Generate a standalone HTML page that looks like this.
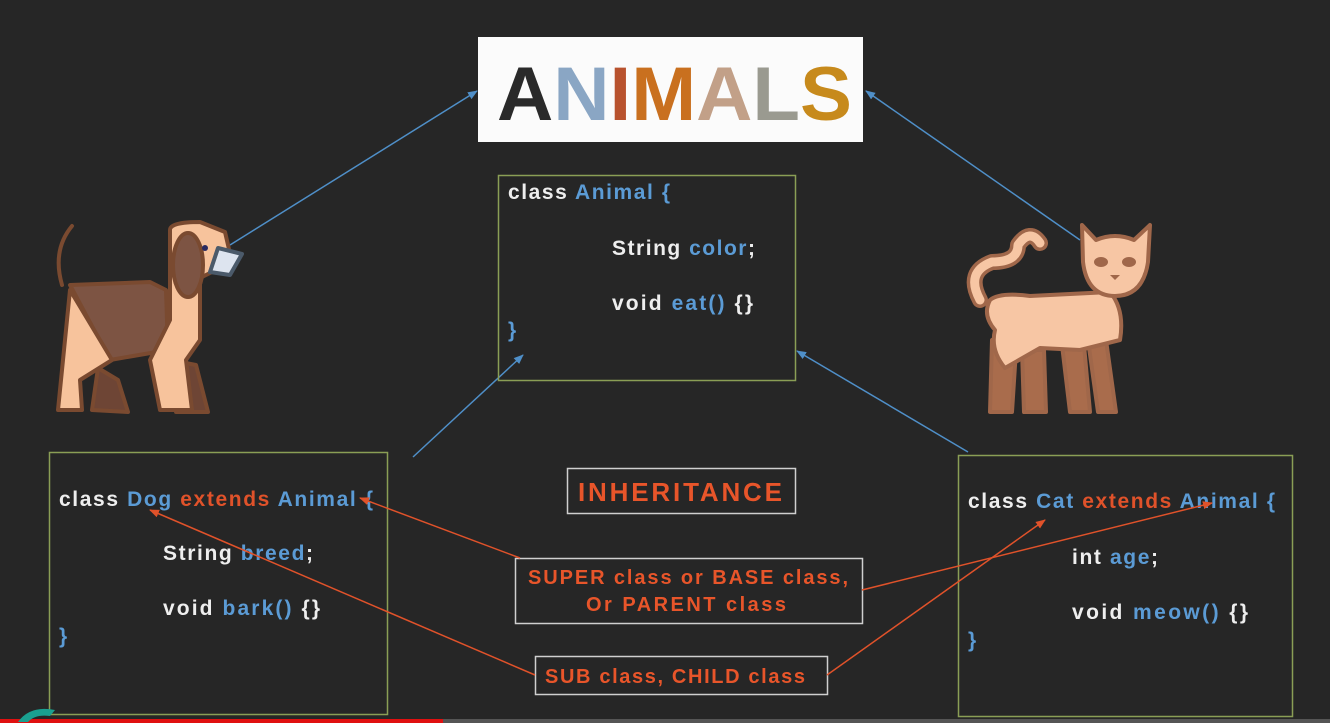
<!DOCTYPE html>
<html><head><meta charset="utf-8"><style>
html,body{margin:0;padding:0;background:#262626;width:1330px;height:723px;overflow:hidden}
svg{display:block}
text{font-family:"Liberation Sans",sans-serif;font-weight:bold}
</style></head><body>
<svg width="1330" height="723" viewBox="0 0 1330 723">
<defs>
<marker id="ab" markerWidth="10" markerHeight="10" refX="9" refY="5" orient="auto" markerUnits="userSpaceOnUse"><path d="M0,1 L10,5 L0,9 Z" fill="#4f8fc8"/></marker>
<marker id="ao" markerWidth="10" markerHeight="10" refX="9" refY="5" orient="auto" markerUnits="userSpaceOnUse"><path d="M0,1 L10,5 L0,9 Z" fill="#e0522a"/></marker>
</defs>
<rect width="1330" height="723" fill="#262626"/>
<g>
<rect x="478" y="37" width="385" height="105" fill="#fbfbfb"/>
<text x="497" y="120" font-size="76" font-weight="bold" textLength="355" lengthAdjust="spacingAndGlyphs"><tspan fill="#2a2a2a">A</tspan><tspan fill="#8aa6c4">N</tspan><tspan fill="#b8522e">I</tspan><tspan fill="#c9701f">M</tspan><tspan fill="#c2a088">A</tspan><tspan fill="#9a9a90">L</tspan><tspan fill="#c78a1c">S</tspan></text>
</g>
<g stroke="#4f8fc8" stroke-width="1.5" fill="none">
<line x1="230" y1="245" x2="477" y2="91" marker-end="url(#ab)"/>
<line x1="1080" y1="240" x2="866" y2="91" marker-end="url(#ab)"/>
<line x1="413" y1="457" x2="523" y2="355" marker-end="url(#ab)"/>
<line x1="968" y1="452" x2="797" y2="351" marker-end="url(#ab)"/>
</g>
<g fill="none" stroke="#8a9e55" stroke-width="1.5">
<rect x="498.5" y="175.5" width="297" height="205"/>
<rect x="49.5" y="452.5" width="338" height="262"/>
<rect x="958.5" y="455.5" width="334" height="261"/>
</g>
<g font-size="21">
<text x="508" y="199" textLength="162"><tspan fill="#eeeeee">class </tspan><tspan fill="#5b9bd5">Animal {</tspan></text>
<text x="612" y="255" textLength="143"><tspan fill="#eeeeee">String </tspan><tspan fill="#5b9bd5">color</tspan><tspan fill="#eeeeee">;</tspan></text>
<text x="612" y="310" textLength="141"><tspan fill="#eeeeee">void </tspan><tspan fill="#5b9bd5">eat()</tspan><tspan fill="#eeeeee"> {}</tspan></text>
<text x="508" y="337" fill="#5b9bd5">}</text>
</g>
<g font-size="21">
<text x="59" y="506" textLength="314"><tspan fill="#eeeeee">class </tspan><tspan fill="#5b9bd5">Dog </tspan><tspan fill="#e0522a">extends </tspan><tspan fill="#5b9bd5">Animal {</tspan></text>
<text x="163" y="560" textLength="150"><tspan fill="#eeeeee">String </tspan><tspan fill="#5b9bd5">breed</tspan><tspan fill="#eeeeee">;</tspan></text>
<text x="163" y="615" textLength="157"><tspan fill="#eeeeee">void </tspan><tspan fill="#5b9bd5">bark()</tspan><tspan fill="#eeeeee"> {}</tspan></text>
<text x="59" y="643" fill="#5b9bd5">}</text>
</g>
<g font-size="21">
<text x="968" y="508" textLength="307"><tspan fill="#eeeeee">class </tspan><tspan fill="#5b9bd5">Cat </tspan><tspan fill="#e0522a">extends </tspan><tspan fill="#5b9bd5">Animal {</tspan></text>
<text x="1072" y="564" textLength="86"><tspan fill="#eeeeee">int </tspan><tspan fill="#5b9bd5">age</tspan><tspan fill="#eeeeee">;</tspan></text>
<text x="1072" y="619" textLength="176"><tspan fill="#eeeeee">void </tspan><tspan fill="#5b9bd5">meow()</tspan><tspan fill="#eeeeee"> {}</tspan></text>
<text x="968" y="647" fill="#5b9bd5">}</text>
</g>
<g fill="none" stroke="#cfcfcf" stroke-width="1.5">
<rect x="567.5" y="468.5" width="228" height="45"/>
<rect x="515.5" y="558.5" width="347" height="65"/>
<rect x="535.5" y="656.5" width="292" height="38"/>
</g>
<g fill="#e8552a">
<text x="578" y="501" font-size="26" textLength="204">INHERITANCE</text>
<text x="528" y="584" font-size="20" textLength="320">SUPER class  or BASE class,</text>
<text x="586" y="611" font-size="20" textLength="200">Or PARENT class</text>
<text x="545" y="683" font-size="20" textLength="260">SUB class, CHILD class</text>
</g>
<g stroke="#e0522a" stroke-width="1.5" fill="none">
<line x1="520" y1="558" x2="360" y2="498" marker-end="url(#ao)"/>
<line x1="862" y1="590" x2="1212" y2="503" marker-end="url(#ao)"/>
<line x1="535" y1="675" x2="150" y2="510" marker-end="url(#ao)"/>
<line x1="827" y1="675" x2="1045" y2="520" marker-end="url(#ao)"/>
</g>
<g stroke="#7a4a30" stroke-width="4" stroke-linejoin="round" stroke-linecap="round">
<path d="M72,226 Q52,250 62,285" fill="none"/>
<path d="M98,368 L92,410 L128,412 L118,380 Z" fill="#6e4535"/>
<path d="M170,360 L176,412 L208,412 L196,365 Z" fill="#6e4535"/>
<path d="M70,285 L150,282 L166,290 L168,350 L110,360 Z" fill="#7d5443"/>
<path d="M70,290 L112,360 L80,380 L82,410 L58,410 Z" fill="#f7c39c"/>
<path d="M150,360 L170,320 L170,230 Q170,222 200,222 L225,232 L232,262 L200,278 L200,340 L186,360 L192,410 L160,410 Z" fill="#f7c39c"/>
<ellipse cx="188" cy="265" rx="15" ry="32" fill="#7d5443"/>
<path d="M218,248 L242,254 L230,275 L210,272 Z" fill="#dde4ef" stroke="#4b5a6a"/>
<circle cx="205" cy="248" r="3" fill="#2a2a60" stroke="none"/>
</g>
<g stroke="#a0674a" stroke-width="4" stroke-linejoin="round">
<path d="M992,340 L990,412 L1012,412 L1016,350 Z" fill="#a96c4c"/>
<path d="M1022,350 L1024,412 L1046,412 L1044,350 Z" fill="#a96c4c"/>
<path d="M1062,345 L1070,412 L1090,412 L1084,345 Z" fill="#a96c4c"/>
<path d="M1088,340 L1098,412 L1116,412 L1106,340 Z" fill="#a96c4c"/>
<path d="M1040,243 Q1030,228 1018,245 Q1018,262 992,262 Q965,272 980,300" fill="none" stroke="#a0674a" stroke-width="16" stroke-linecap="round"/>
<path d="M1040,243 Q1030,228 1018,245 Q1018,262 992,262 Q965,272 980,300" fill="none" stroke="#f7c6a4" stroke-width="9" stroke-linecap="round"/>
<path d="M990,300 Q1000,292 1030,296 L1110,292 Q1125,310 1120,340 L1080,350 L1040,348 L1005,368 Q990,350 995,330 Q982,315 990,300 Z" fill="#f7c6a4"/>
<path d="M1082,225 L1096,240 Q1115,232 1134,240 L1150,225 L1148,262 Q1143,296 1115,296 Q1087,296 1083,262 Z" fill="#f7c6a4"/>
<ellipse cx="1101" cy="262" rx="7" ry="5" fill="#a0674a" stroke="none"/>
<ellipse cx="1129" cy="262" rx="7" ry="5" fill="#a0674a" stroke="none"/>
<path d="M1110,275 L1120,275 L1115,280 Z" fill="#a0674a" stroke="none"/>
</g>
<rect x="0" y="719" width="443" height="4" fill="#e01010"/>
<rect x="443" y="719" width="887" height="4" fill="#555"/>
<path d="M18,722 Q30,705 55,710 L50,716 Q35,714 28,722 Z" fill="#1aa090"/>
</svg>
</body></html>
